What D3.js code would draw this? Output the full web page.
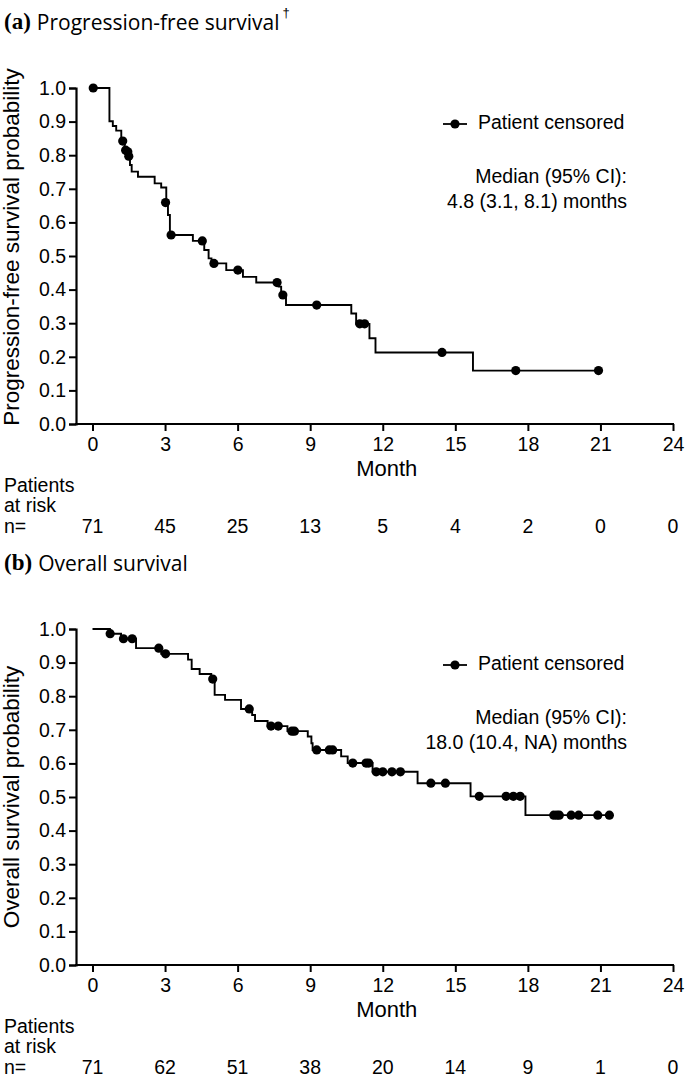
<!DOCTYPE html>
<html><head><meta charset="utf-8">
<script src="https://cdn.jsdelivr.net/npm/d3@7"></script>
<style>body{margin:0;background:#fff}svg{display:block}</style>
</head><body>
<svg id="c" width="685" height="1082"></svg>
<script>
// ---------- DATA ----------
const monthTicks = [0,3,6,9,12,15,18,21,24];
const probTicks = [0,0.1,0.2,0.3,0.4,0.5,0.6,0.7,0.8,0.9,1.0];

// Panel (a) PFS: step times and survival after each step
const pfsStepTime = [0.70,0.84,0.98,1.19,1.33,1.48,1.55,1.62,1.88,2.57,2.84,3.05,3.12,3.20,4.15,4.62,4.80,4.92,5.53,6.22,6.77,7.70,7.80,8.00,10.70,10.90,11.45,11.70,15.73];
const pfsStepSurv = [0.901,0.887,0.873,0.845,0.817,0.797,0.771,0.751,0.736,0.716,0.704,0.665,0.622,0.5625,0.545,0.518,0.493,0.478,0.458,0.438,0.421,0.409,0.384,0.354,0.329,0.298,0.255,0.213,0.159];
const pfsEnd = 20.92;
const pfsCensorTime = [0.03,1.25,1.37,1.46,1.50,3.02,3.25,4.54,5.02,6.01,7.63,7.87,9.27,11.05,11.25,14.45,17.5,20.92];
const pfsCensorSurv = [1.0,0.842,0.815,0.81,0.797,0.659,0.5625,0.545,0.478,0.458,0.421,0.384,0.354,0.298,0.298,0.213,0.159,0.159];
const pfsAtRisk = [71,45,25,13,5,4,2,0,0];

// Panel (b) OS
const osStepTime = [0.72,1.18,1.80,2.84,3.95,4.10,4.43,4.91,5.05,5.48,6.14,6.60,6.72,7.24,8.06,8.90,9.05,9.10,10.28,10.55,11.58,13.44,15.63,17.90];
const osStepSurv = [0.986,0.971,0.943,0.926,0.909,0.881,0.866,0.851,0.804,0.789,0.762,0.744,0.726,0.711,0.696,0.680,0.660,0.640,0.621,0.601,0.575,0.541,0.502,0.446];
const osEnd = 21.37;
const osCensorTime = [0.73,1.28,1.64,2.74,3.02,4.97,6.48,7.38,7.68,8.24,8.35,9.27,9.79,9.93,10.76,11.31,11.42,11.73,12.0,12.38,12.73,13.99,14.59,15.99,17.1,17.4,17.68,19.07,19.2,19.3,19.79,20.1,20.89,21.37];
const osCensorSurv = [0.986,0.971,0.971,0.943,0.926,0.851,0.762,0.711,0.711,0.696,0.696,0.64,0.64,0.64,0.601,0.601,0.601,0.575,0.575,0.575,0.575,0.541,0.541,0.502,0.502,0.502,0.502,0.446,0.446,0.446,0.446,0.446,0.446,0.446];
const osAtRisk = [71,62,51,38,20,14,9,1,0];

// ---------- DRAW ----------
const svg = d3.select("#c");
const sans = "'Liberation Sans', Arial, sans-serif";
const titleFont = "'Open Sans', 'Noto Sans', sans-serif";
const fs = 19.5;

function panel(o){
  const x = d3.scaleLinear().domain([0,24]).range([92.5,673]);
  const y = d3.scaleLinear().domain([0,1]).range([o.y0, o.y0-336]);
  const g = svg.append("g");
  const axX = 76;

  // title
  const t = g.append("text").attr("x",4).attr("y",o.y0-400).attr("dominant-baseline","middle").attr("fill","#000");
  t.append("tspan").attr("font-family","'Liberation Serif', 'Times New Roman', serif").attr("font-weight","bold").attr("font-size",23).text(o.letter);
  t.append("tspan").attr("font-family",titleFont).attr("font-size",21).attr("dx",6).text(o.title);
  if(o.dagger) t.append("tspan").attr("font-family",sans).attr("fill","#000").attr("font-size",13).attr("dy",-10).attr("dx",3).text("\u2020");

  // y axis
  const yAx = g.append("g").attr("transform",`translate(${axX},0)`)
    .call(d3.axisLeft(y).tickValues(probTicks).tickFormat(d3.format(".1f")).tickSizeOuter(0).tickSize(7).tickPadding(3));
  yAx.select(".domain").attr("stroke-width",2.2);
  yAx.selectAll(".tick line").attr("stroke-width",2);
  yAx.selectAll("text").attr("font-family",sans).attr("font-size",fs).attr("fill","#000");

  // x axis
  const xAx = g.append("g").attr("transform",`translate(0,${o.y0})`)
    .call(d3.axisBottom(x).tickValues(monthTicks).tickSize(7).tickSizeOuter(0).tickPadding(6));
  xAx.select(".domain").attr("d",`M${axX-1},0H${x(24)+1}`).attr("stroke-width",2.2);
  xAx.selectAll(".tick line").attr("stroke-width",2);
  xAx.selectAll("text").attr("font-family",sans).attr("font-size",fs).attr("fill","#000");

  g.append("text").attr("x",x(12)+4).attr("y",o.y0+52).attr("text-anchor","middle")
    .attr("font-family",sans).attr("font-size",22).text("Month");

  // y label
  g.append("text").attr("transform",`translate(13,${o.ylabY}) rotate(-90)`).attr("text-anchor","middle")
    .attr("dominant-baseline","middle").attr("font-family",sans).attr("font-size",22.5).text(o.ylab);

  // step curve
  const pts = [[0,1]];
  o.st.forEach((tm,i)=>pts.push([tm,o.ss[i]]));
  pts.push([o.end,o.ss[o.ss.length-1]]);
  const line = d3.line().x(d=>x(d[0])).y(d=>y(d[1])).curve(d3.curveStepAfter);
  g.append("path").attr("d",line(pts)).attr("fill","none").attr("stroke","#000").attr("stroke-width",1.9);

  // censor dots
  g.selectAll("circle.c").data(o.ct).join("circle").attr("class","c")
    .attr("cx",d=>x(d)).attr("cy",(d,i)=>y(o.cs[i])).attr("r",4.6).attr("fill","#000");

  // legend
  const ly = o.y0-300;
  g.append("line").attr("x1",443).attr("x2",467).attr("y1",ly).attr("y2",ly).attr("stroke","#000").attr("stroke-width",1.8);
  g.append("circle").attr("cx",455).attr("cy",ly).attr("r",4.6).attr("fill","#000");
  g.append("text").attr("x",478).attr("y",ly).attr("dominant-baseline","middle").attr("font-family",sans).attr("font-size",fs).text("Patient censored");
  g.append("text").attr("x",627).attr("y",o.y0-246).attr("text-anchor","end").attr("dominant-baseline","middle").attr("font-family",sans).attr("font-size",fs).text("Median (95% CI):");
  g.append("text").attr("x",627).attr("y",o.y0-221).attr("text-anchor","end").attr("dominant-baseline","middle").attr("font-family",sans).attr("font-size",fs).text(o.median);

  // at risk
  g.append("text").attr("x",4).attr("y",o.y0+68).attr("font-family",sans).attr("font-size",fs).text("Patients");
  g.append("text").attr("x",4).attr("y",o.y0+88).attr("font-family",sans).attr("font-size",fs).text("at risk");
  g.append("text").attr("x",4).attr("y",o.y0+109).attr("font-family",sans).attr("font-size",fs).text("n=");
  g.selectAll("text.r").data(o.risk).join("text").attr("class","r")
    .attr("x",(d,i)=>x(monthTicks[i])).attr("y",o.y0+109).attr("text-anchor","middle")
    .attr("font-family",sans).attr("font-size",fs).text(d=>d);
}

panel({y0:424, letter:"(a)", title:"Progression-free survival", dagger:true, ylab:"Progression-free survival probability", ylabY:247,
  st:pfsStepTime, ss:pfsStepSurv, end:pfsEnd, ct:pfsCensorTime, cs:pfsCensorSurv, risk:pfsAtRisk, median:"4.8 (3.1, 8.1) months"});
panel({y0:965, letter:"(b)", title:"Overall survival", dagger:false, ylab:"Overall survival probability", ylabY:797,
  st:osStepTime, ss:osStepSurv, end:osEnd, ct:osCensorTime, cs:osCensorSurv, risk:osAtRisk, median:"18.0 (10.4, NA) months"});
</script>
</body></html>
